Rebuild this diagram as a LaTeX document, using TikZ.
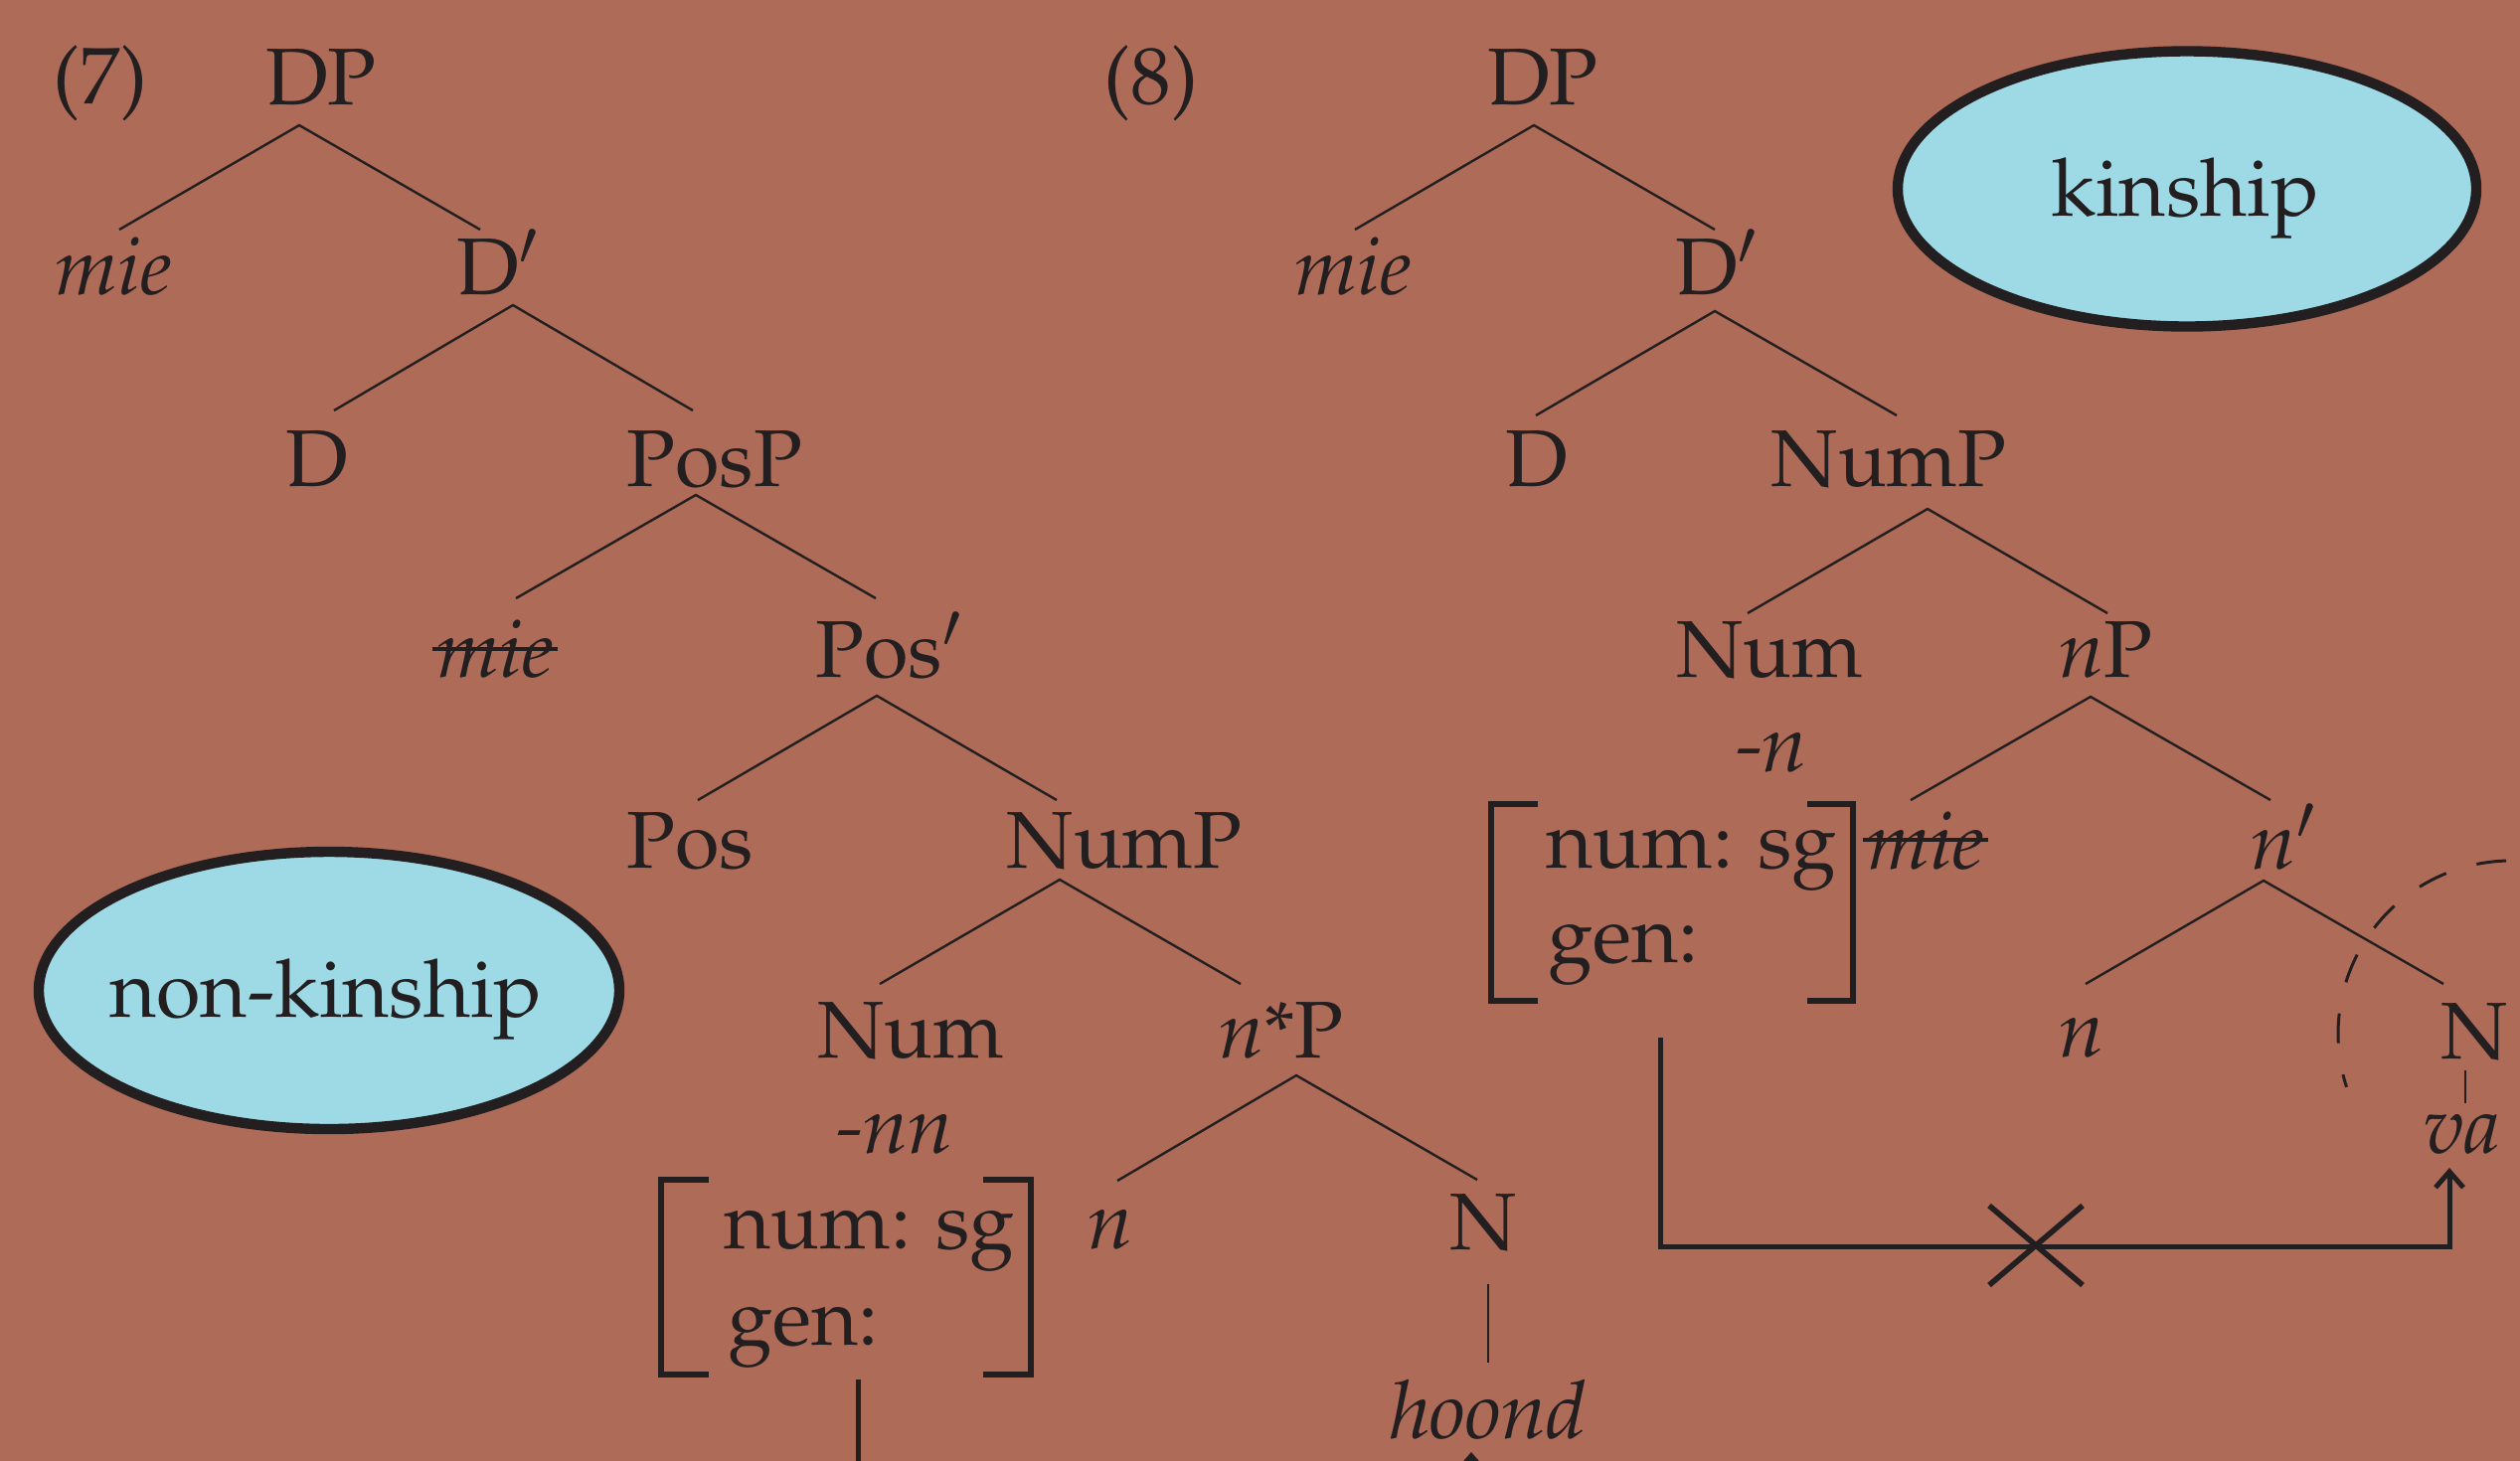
\documentclass[tikz,border=0pt]{standalone}
\usepackage[T1]{fontenc}
\usepackage{mathpazo}
\usetikzlibrary{arrows.meta,shapes.geometric}
\definecolor{bgc}{RGB}{174,107,88}
\definecolor{ink}{RGB}{35,31,32}
\definecolor{ovalc}{RGB}{158,218,230}
\tikzset{
  lbl/.style={anchor=base,inner sep=0pt,text=ink,font=\fontsize{20.25}{24}\selectfont},
  lblw/.style={lbl,anchor=base west},
  edge/.style={draw=ink,line width=0.6pt},
  brk/.style={draw=ink,line width=1.5pt},
  mv/.style={draw=ink,line width=1.25pt},
  strike/.style={draw=ink,line width=0.9pt},
  blob/.style={ellipse,draw=ink,line width=2.6pt,fill=ovalc,inner sep=0pt},
  brbox/.style={inner sep=0pt,draw=none}
}
\begin{document}
\begin{tikzpicture}[x=0.25pt,y=-0.25pt]
\useasboundingbox (0,0) rectangle (2535,1469);
\fill[fill=bgc] (-20,-20) rectangle (2555,1489);
\clip (0,0) rectangle (2535,1469);

% ---------- ellipses ----------
\node[blob,minimum width=145.5pt,minimum height=69.25pt] (kin) at (2200,190) {};
\node[lbl] (kint) at (2198,217) {kinship};
\node[blob,minimum width=146pt,minimum height=69.75pt] (nonkin) at (331,996.5) {};
\node[lbl] (nonkint) at (328,1023) {non-kinship};

% ---------- tree (7) ----------
\node[lbl] (p7) at (101,104) {(7)};
\node[lbl] (dpL) at (323,105) {DP};
\node[lbl] (mieL) at (114,296) {\textit{mie}};
\node[lbl] (dbarL) at (501,296) {D$'$};
\node[lbl] (dL) at (319,489) {D};
\node[lbl] (pospL) at (719,489) {PosP};
\node[lbl] (mie2L) at (498,681) {\textit{mie}};
\node[lbl] (posbarL) at (895,681) {Pos$'$};
\node[lbl] (posL) at (694,873) {Pos};
\node[lbl] (numpL) at (1131,873) {NumP};
\node[lbl] (numL) at (916,1064) {Num};
\node[lbl] (nstarpL) at (1289,1064) {\textit{n}*P};
\node[lbl] (nnL) at (900,1160) {\textit{-nn}};
\node[lbl] (nL) at (1117,1256) {\textit{n}};
\node[lbl] (NL) at (1492,1257) {N};
\node[lbl] (hoond) at (1497,1447) {\textit{hoond}};
\node[lblw] (f1a) at (728,1256) {num: sg};
\node[lblw] (f1b) at (732,1353) {gen:};
\node[brbox,minimum width=92.5pt,minimum height=48.5pt] (b1) at (851,1285) {};

% tree (7) edge points
\coordinate (dpL-b) at (301,126);
\coordinate (mieL-t) at (120,231);
\coordinate (dbarL-t) at (483,231);
\coordinate (dbarL-b) at (516,307);
\coordinate (dL-t) at (336,413);
\coordinate (pospL-t) at (697,413);
\coordinate (pospL-b) at (700,498);
\coordinate (mie2L-t) at (519,602);
\coordinate (posbarL-t) at (881,602);
\coordinate (posbarL-b) at (882,700);
\coordinate (posL-t) at (702,805);
\coordinate (numpL-t) at (1063,805);
\coordinate (numpL-b) at (1066,885);
\coordinate (numL-t) at (885,990);
\coordinate (nstarpL-t) at (1248,990);
\coordinate (nstarpL-b) at (1304,1082);
\coordinate (nL-t) at (1124,1188);
\coordinate (NL-t) at (1486,1187);
\coordinate (NL-b) at (1497,1292);
\coordinate (hoond-t) at (1497,1371);

\draw[edge] (mieL-t) -- (dpL-b) -- (dbarL-t);
\draw[edge] (dL-t) -- (dbarL-b) -- (pospL-t);
\draw[edge] (mie2L-t) -- (pospL-b) -- (posbarL-t);
\draw[edge] (posL-t) -- (posbarL-b) -- (numpL-t);
\draw[edge] (numL-t) -- (numpL-b) -- (nstarpL-t);
\draw[edge] (nL-t) -- (nstarpL-b) -- (NL-t);
\draw[edge] (NL-b) -- (hoond-t);

\draw[strike] ([xshift=-1pt,yshift=7pt]mie2L.base west) -- ([xshift=1pt,yshift=7pt]mie2L.base east);

\draw[brk] ([xshift=12pt]b1.north west) -- (b1.north west) -- (b1.south west) -- ([xshift=12pt]b1.south west);
\draw[brk] ([xshift=-12pt]b1.north east) -- (b1.north east) -- (b1.south east) -- ([xshift=-12pt]b1.south east);

\coordinate (l0) at (863,1388);
\coordinate (l1) at (863,1530);
\coordinate (htip) at (1480,1461);
\draw[mv,-{Straight Barb[length=4pt,width=7pt]}] (l0) -- (l1) -| (htip);

% ---------- tree (8) ----------
\node[lbl] (p8) at (1158,104) {(8)};
\node[lbl] (dpR) at (1552,105) {DP};
\node[lbl] (mieR) at (1361,296) {\textit{mie}};
\node[lbl] (dbarR) at (1727,296) {D$'$};
\node[lbl] (dR) at (1546,489) {D};
\node[lbl] (numpR) at (1900,489) {NumP};
\node[lbl] (numR) at (1780,681) {Num};
\node[lbl] (npR) at (2118,681) {\textit{n}P};
\node[lbl] (nR1) at (1782,776) {\textit{-n}};
\node[lbl] (mie2R) at (1937,874) {\textit{mie}};
\node[lbl] (nbarR) at (2298,874) {\textit{n}$'$};
\node[lbl] (nR) at (2094,1063) {\textit{n}};
\node[lbl] (NR) at (2489,1065) {N};
\node[lbl] (va) at (2477,1160) {\textit{va}};
\node[lblw] (f2a) at (1555,873) {num: sg};
\node[lblw] (f2b) at (1557,968) {gen:};
\node[brbox,minimum width=90.5pt,minimum height=49pt] (b2) at (1682,908) {};

\coordinate (dpR-b) at (1543,126);
\coordinate (mieR-t) at (1363,231);
\coordinate (dbarR-t) at (1725,231);
\coordinate (dbarR-b) at (1725,313);
\coordinate (dR-t) at (1545,418);
\coordinate (numpR-t) at (1908,418);
\coordinate (numpR-b) at (1939,512);
\coordinate (numR-t) at (1758,617);
\coordinate (npR-t) at (2120,617);
\coordinate (npR-b) at (2103,701);
\coordinate (mie2R-t) at (1922,805);
\coordinate (nbarR-t) at (2284,805);
\coordinate (nbarR-b) at (2277,886);
\coordinate (nR-t) at (2098,990);
\coordinate (NR-t) at (2458,990);
\coordinate (NR-b) at (2480,1077);
\coordinate (va-t) at (2480,1110);

\draw[edge] (mieR-t) -- (dpR-b) -- (dbarR-t);
\draw[edge] (dR-t) -- (dbarR-b) -- (numpR-t);
\draw[edge] (numR-t) -- (numpR-b) -- (npR-t);
\draw[edge] (mie2R-t) -- (npR-b) -- (nbarR-t);
\draw[edge] (nR-t) -- (nbarR-b) -- (NR-t);
\draw[edge] (NR-b) -- (va-t);

\draw[strike] ([xshift=-1pt,yshift=7.2pt]mie2R.base west) -- ([xshift=1pt,yshift=7.2pt]mie2R.base east);

\draw[brk] ([xshift=11.75pt]b2.north west) -- (b2.north west) -- (b2.south west) -- ([xshift=11.75pt]b2.south west);
\draw[brk] ([xshift=-11.5pt]b2.north east) -- (b2.north east) -- (b2.south east) -- ([xshift=-11.5pt]b2.south east);

% dashed circle round N
\coordinate (circc) at (2526,1040);
\draw[draw=ink,line width=0.75pt,dash pattern=on 7.5pt off 8pt,dash phase=7pt] (circc) ++(300:174) arc[start angle=300,end angle=162,radius=174];

% blocked arrow
\coordinate (a0) at (1670,1044);
\coordinate (a1) at (1670,1254);
\coordinate (vatip) at (2464,1175);
\draw[mv,-{Straight Barb[length=4pt,width=7pt]}] (a0) -- (a1) -| (vatip);
\coordinate (xc) at (2048,1253);
\draw[draw=ink,line width=1.4pt] ([shift={(-47,-40)}]xc) -- ([shift={(47,40)}]xc)
  ([shift={(47,-40)}]xc) -- ([shift={(-47,40)}]xc);
\end{tikzpicture}
\end{document}
